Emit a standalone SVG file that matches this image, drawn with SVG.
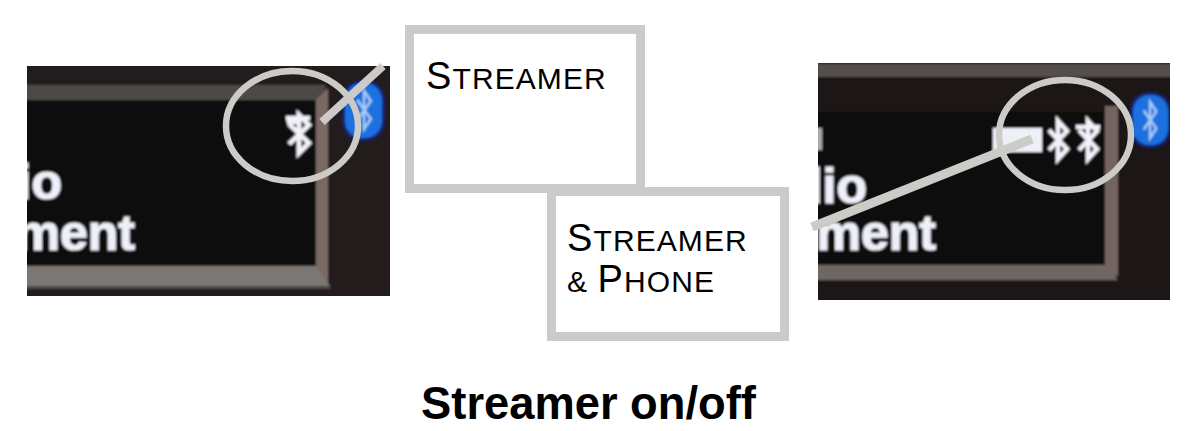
<svg xmlns="http://www.w3.org/2000/svg" width="1203" height="431" viewBox="0 0 1203 431">
<style>
.box{fill:#fff;stroke:#cbcbcb;stroke-width:9}
.ring{fill:none;stroke:#cdcbc8;stroke-width:6.500}
.lead{stroke:#cdcbc8;fill:none}
.lbl{font-family:"Liberation Sans",Arial,sans-serif;fill:#000;font-size:30px;letter-spacing:1.100px}
.cap{font-size:38px}
.scr{font-family:"Liberation Sans",Arial,sans-serif;font-weight:700;fill:#eef0fa;stroke:#eef0fa;stroke-width:1.200;font-size:50px;text-anchor:end}
.title{font-family:"Liberation Sans",Arial,sans-serif;font-weight:700;font-size:45.300px;fill:#000;text-anchor:middle}
.bt{fill:none;stroke:#f2f3fa;stroke-width:4.500}
.bb{fill:none;stroke:#a9cdf5;stroke-width:3}
</style>
<defs>
<filter id="soft" x="-5%" y="-5%" width="110%" height="110%"><feGaussianBlur stdDeviation="1"/></filter>
<clipPath id="cl"><rect x="27" y="66" width="363" height="230"/></clipPath>
<clipPath id="cr"><rect x="818" y="63" width="352" height="237"/></clipPath>
<path id="btg" d="M-9 -10L9 9L0 19V-19L9 -9L-9 10"/>
</defs>
<rect width="1203" height="431" fill="#fff"/>
<g id="photo-left" clip-path="url(#cl)"><g filter="url(#soft)">
<rect x="20" y="60" width="380" height="245" fill="#221c1c"/>
<rect x="20" y="85" width="305" height="15" fill="#4f4945"/>
<rect x="20" y="100" width="296" height="166" fill="#0c080b"/>
<path d="M316 100L328 88V288L316 266Z" fill="#7a6963"/>
<path d="M20 266H316L330 286H20Z" fill="#7b7772"/>
<rect x="20" y="286" width="310" height="3" fill="#4a4644"/>
<rect x="342" y="80" width="43" height="61" rx="20" fill="#17246a"/>
<rect x="345" y="83" width="37" height="55" rx="17" fill="#1f6fe0"/>
<use href="#btg" transform="translate(364 110) scale(.75 1)" class="bb"/>
<use href="#btg" transform="translate(299 134) scale(1.100 1)" class="bt"/>
<path d="M286 118h24M287 122h10" class="bt"/>
<text x="62" y="199" class="scr">io</text>
<text x="135" y="250" class="scr">ment</text>
</g></g>
<g id="photo-right" clip-path="url(#cr)"><g filter="url(#soft)">
<rect x="810" y="58" width="368" height="250" fill="#1d1819"/>
<rect x="810" y="64" width="368" height="13" fill="#55504c"/>
<rect x="810" y="112" width="295" height="152" fill="#0d090c"/>
<rect x="1105" y="106" width="13" height="170" fill="#74635e"/>
<path d="M810 265H1105L1118 280H810Z" fill="#6d6864"/>
<rect x="1130" y="92" width="41" height="56" rx="19" fill="#17246a"/>
<rect x="1133" y="95" width="35" height="50" rx="16" fill="#1f6fe0"/>
<use href="#btg" transform="translate(1150 120) scale(.7 .95)" class="bb"/>
<rect x="993" y="128" width="49" height="24" fill="#eef0f8"/>
<use href="#btg" transform="translate(1058 140)" class="bt"/>
<use href="#btg" transform="translate(1088 140)" class="bt"/>
<path d="M1076 127h24" class="bt"/>
<rect x="812" y="128" width="10" height="22" fill="#aaa"/>
<text x="867" y="203" class="scr">dio</text>
<text x="936" y="250" class="scr">ment</text>
</g></g>
<g id="connectors">
<ellipse class="ring" cx="292" cy="126" rx="66" ry="55"/>
<path class="lead" stroke-width="8" d="M322 122L383 66"/>
<ellipse class="ring" cx="1065" cy="135" rx="66" ry="55"/>
<path class="lead" stroke-width="9" d="M812 227L1032 139"/>
</g>
<g id="node-streamer">
<rect class="box" x="409.500" y="29.500" width="231" height="159"/>
<text class="lbl" x="426" y="89"><tspan class="cap">S</tspan>TREAMER</text>
</g>
<g id="node-streamer-phone">
<rect class="box" x="551.500" y="191.500" width="233" height="145"/>
<text class="lbl" x="567" y="251"><tspan class="cap">S</tspan>TREAMER</text>
<text class="lbl" x="567" y="292">&amp; <tspan class="cap">P</tspan>HONE</text>
</g>
<text id="title" class="title" x="588.500" y="419">Streamer on/off</text>
</svg>
